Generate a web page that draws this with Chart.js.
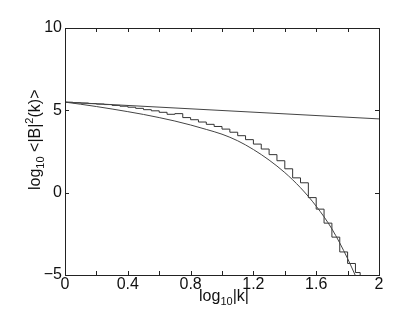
<!DOCTYPE html>
<html>
<head>
<meta charset="utf-8">
<script src="https://cdn.jsdelivr.net/npm/chart.js@4/dist/chart.umd.min.js"></script>
<style>
  html, body { margin: 0; padding: 0; background: #fff; }
  #wrap { width: 407px; height: 323px; }
</style>
</head>
<body>
<div id="wrap"><canvas id="myChart" width="407" height="323"></canvas></div>
<script>
// log10 |k| positions and values
const lineX = [0, 2];
const lineY = [5.5, 4.48];

const curveX = [0, 0.1, 0.2, 0.3, 0.4, 0.5, 0.6, 0.7, 0.8, 0.9, 1.0, 1.1, 1.2, 1.3, 1.4, 1.5, 1.6, 1.7, 1.8, 1.85, 1.9];
const curveY = [5.5, 5.37, 5.23, 5.08, 4.92, 4.75, 4.56, 4.35, 4.11, 3.84, 3.55, 3.15, 2.62, 1.98, 1.22, 0.3, -0.82, -2.2, -4.0, -5.05, -6.1];

const stepX = [0, 0.05, 0.1, 0.15, 0.2, 0.25, 0.3, 0.35, 0.4, 0.45, 0.5, 0.55, 0.6, 0.65, 0.7, 0.75, 0.8, 0.85, 0.9, 0.95,
    1.0, 1.05, 1.1, 1.15, 1.2, 1.25, 1.3, 1.35, 1.4, 1.45, 1.5, 1.55, 1.6, 1.65, 1.7, 1.75, 1.8, 1.85, 1.88];
const stepY = [5.49, 5.46, 5.44, 5.41, 5.38, 5.35, 5.30, 5.25, 5.19, 5.12, 5.04, 4.97, 4.88, 4.76, 4.80, 4.56, 4.43, 4.29, 4.15, 4.02,
    3.86, 3.67, 3.46, 3.22, 2.95, 2.65, 2.31, 1.94, 1.45, 0.9, 0.6, -0.3, -1.0, -1.85, -2.7, -3.6, -4.3, -4.85, -5.6];

const xTickValues = [0, 0.4, 0.8, 1.2, 1.6, 2];
const xTickLabels = ['0', '0.4', '0.8', '1.2', '1.6', '2'];
const yTickValues = [-5, 0, 5, 10];
const yTickLabels = ['\u22125', '0', '5', '10'];

const FONT = '"Liberation Sans", Arial, Helvetica, sans-serif';

function pts(xs, ys) {
    return xs.map((x, i) => ({x: x, y: ys[i]}));
}

function lookup(values, labels, v) {
    for (let i = 0; i < values.length; i++) {
        if (Math.abs(values[i] - v) < 1e-6) return labels[i];
    }
    return '';
}

// draw a string made of normal / sub / sup pieces, starting at (x, y) baseline
function richText(ctx, parts, x, y) {
    let cx = x;
    parts.forEach(p => {
        const size = p.s === 0 ? 16 : 11;
        const dy = p.s < 0 ? 4 : (p.s > 0 ? -7 : 0);
        ctx.font = size + 'px ' + FONT;
        ctx.fillText(p.t, cx, y + dy);
        cx += ctx.measureText(p.t).width;
    });
}

function richWidth(ctx, parts) {
    let w = 0;
    parts.forEach(p => {
        ctx.font = (p.s === 0 ? 16 : 11) + 'px ' + FONT;
        w += ctx.measureText(p.t).width;
    });
    return w;
}

const framePlugin = {
    id: 'frame',
    afterDraw(chart) {
        const ctx = chart.ctx;
        const a = chart.chartArea;
        const xs = chart.scales.x;
        const ys = chart.scales.y;
        ctx.save();
        ctx.strokeStyle = '#222';
        ctx.lineWidth = 1;
        ctx.strokeRect(Math.round(a.left) + 0.5, Math.round(a.top) + 0.5,
            Math.round(a.right - a.left), Math.round(a.bottom - a.top));
        // inward ticks
        ctx.beginPath();
        xs.ticks.forEach(t => {
            const px = Math.round(xs.getPixelForValue(t.value)) + 0.5;
            ctx.moveTo(px, a.bottom);
            ctx.lineTo(px, a.bottom - 4);
            ctx.moveTo(px, a.top);
            ctx.lineTo(px, a.top + 4);
        });
        ys.ticks.forEach(t => {
            const py = Math.round(ys.getPixelForValue(t.value)) + 0.5;
            ctx.moveTo(a.left, py);
            ctx.lineTo(a.left + 4, py);
            ctx.moveTo(a.right, py);
            ctx.lineTo(a.right - 4, py);
        });
        ctx.stroke();

        // axis titles
        ctx.fillStyle = '#111';
        ctx.textBaseline = 'alphabetic';
        ctx.textAlign = 'left';
        const xt = [{t: 'log', s: 0}, {t: '10', s: -1}, {t: '|k|', s: 0}];
        const w = richWidth(ctx, xt);
        richText(ctx, xt, (a.left + a.right) / 2 + 2 - w / 2, 301);

        const yt = [{t: 'log', s: 0}, {t: '10', s: -1}, {t: ' <|B|', s: 0}, {t: '2', s: 1}, {t: '(k)>', s: 0}];
        ctx.translate(40, 190);
        ctx.rotate(-Math.PI / 2);
        richText(ctx, yt, 0, 0);
        ctx.restore();
    }
};

const config = {
    type: 'line',
    data: {
        datasets: [{
            label: 'power law',
            data: pts(lineX, lineY),
            borderColor: '#444',
            borderWidth: 1,
            pointRadius: 0,
            fill: false
        }, {
            label: 'model',
            data: pts(curveX, curveY),
            borderColor: '#444',
            borderWidth: 1,
            pointRadius: 0,
            cubicInterpolationMode: 'monotone',
            fill: false
        }, {
            label: 'spectrum',
            data: pts(stepX, stepY),
            borderColor: '#333',
            borderWidth: 1,
            pointRadius: 0,
            stepped: 'before',
            fill: false
        }]
    },
    options: {
        responsive: false,
        animation: false,
        events: [],
        layout: {padding: {top: 28, right: 28, left: 0, bottom: 0}},
        plugins: {legend: {display: false}, tooltip: {enabled: false}},
        scales: {
            x: {
                type: 'linear',
                min: 0,
                max: 2,
                grid: {display: false, drawTicks: false},
                border: {display: false},
                afterFit: s => { s.height = 48; },
                ticks: {
                    stepSize: 0.2,
                    autoSkip: false,
                    maxRotation: 0,
                    padding: 0,
                    color: '#111',
                    font: {family: FONT, size: 16},
                    callback: v => lookup(xTickValues, xTickLabels, v)
                }
            },
            y: {
                type: 'linear',
                min: -5,
                max: 10,
                grid: {display: false, drawTicks: false},
                border: {display: false},
                afterFit: s => { s.width = 65; },
                ticks: {
                    stepSize: 5,
                    padding: 3,
                    color: '#111',
                    font: {family: FONT, size: 16},
                    callback: v => lookup(yTickValues, yTickLabels, v)
                }
            }
        }
    },
    plugins: [framePlugin]
};

const myChart = new Chart(
    document.getElementById('myChart'),
    config
);
</script>
</body>
</html>
